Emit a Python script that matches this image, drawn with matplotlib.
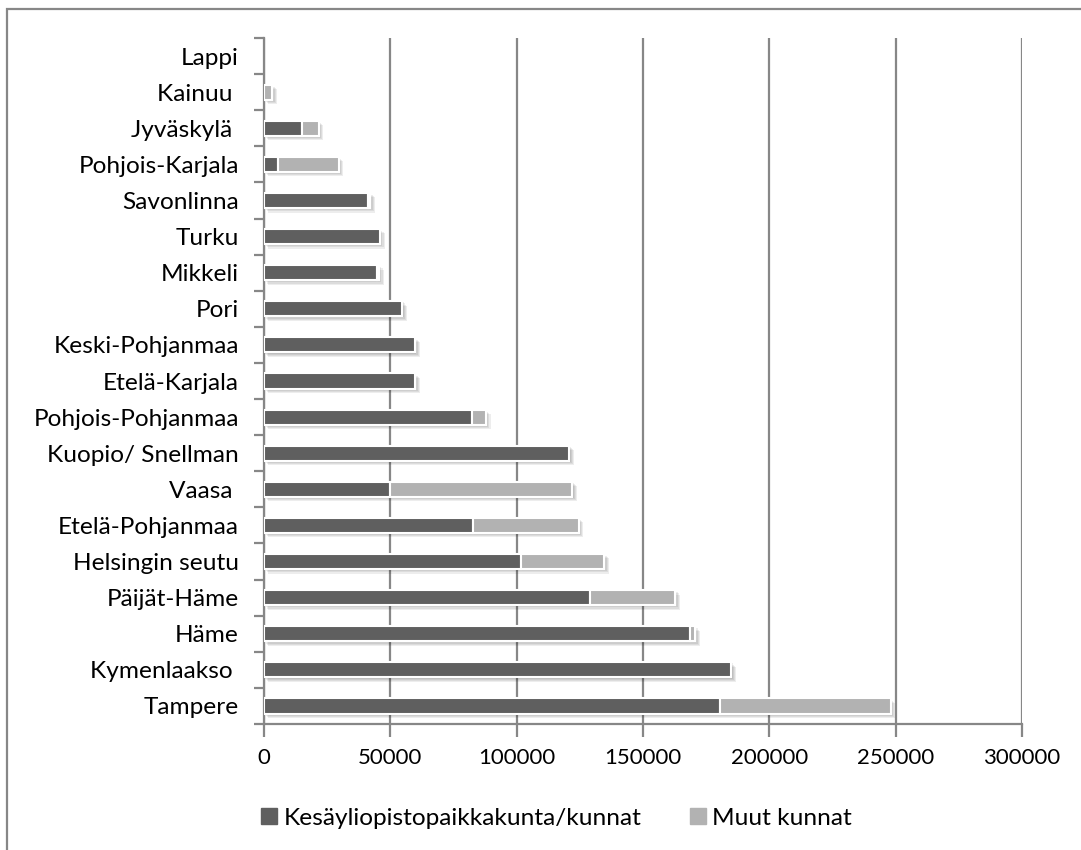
import numpy as np
import matplotlib.pyplot as plt
import matplotlib.patheffects as pe
from matplotlib.patches import Rectangle

plt.rcParams['font.family'] = ['Lato', 'DejaVu Sans']

# alhaalta ylös
regions = ['Tampere', 'Kymenlaakso ', 'Häme', 'Päijät-Häme', 'Helsingin seutu',
           'Etelä-Pohjanmaa', 'Vaasa ', 'Kuopio/ Snellman', 'Pohjois-Pohjanmaa',
           'Etelä-Karjala', 'Keski-Pohjanmaa', 'Pori', 'Mikkeli', 'Turku',
           'Savonlinna', 'Pohjois-Karjala', 'Jyväskylä ', 'Kainuu ', 'Lappi']
kesayliopisto = [180600, 185000, 168600, 129100, 101700, 82600, 50000, 120900, 82400,
                 59900, 59900, 54800, 44900, 46000, 41300, 5600, 14900, 0, 0]
muut = [67400, 0, 2100, 33700, 33000, 42000, 72100, 0, 5500,
        0, 0, 0, 700, 0, 800, 23900, 6700, 3300, 0]
series_names = ['Kesäyliopistopaikkakunta/kunnat', 'Muut kunnat']
x_ticks = [0, 50000, 100000, 150000, 200000, 250000, 300000]

dark = '#5f5f5f'
light = '#b2b2b2'
grid_c = '#878787'

fig = plt.figure(figsize=(10.81, 8.5), dpi=100)
ax = fig.add_axes([0.2442, 0.1482, 0.7012, 0.8071])

y = np.arange(len(regions))
# pehmeä varjo useasta kerroksesta
shadow = [pe.SimplePatchShadow(offset=(o, -o), shadow_rgbFace='#000000', alpha=0.07)
          for o in (0.8, 1.6, 2.4, 3.2)] + [pe.Normal()]
b1 = ax.barh(y, kesayliopisto, height=0.42, color=dark, edgecolor='white', linewidth=1.5,
             zorder=3)
b2 = ax.barh(y, muut, left=kesayliopisto, height=0.42, color=light, edgecolor='white',
             linewidth=1.5, zorder=3)
for bars in (b1, b2):
    for p in bars:
        if p.get_width() > 0:
            p.set_path_effects(shadow)
        else:
            p.set_visible(False)

ax.set_xlim(0, 300000)
ax.set_ylim(-0.5, len(regions) - 0.5)
ax.set_xticks(x_ticks)
ax.set_xticklabels([str(v) for v in x_ticks], fontsize=16)
ax.set_yticks(y)
ax.set_yticklabels(regions, fontsize=17.6)
ax.set_yticks(np.arange(-0.5, len(regions), 1), minor=True)

ax.grid(axis='x', color=grid_c, linewidth=1.6, zorder=0)
ax.set_axisbelow(True)
for s in ['top', 'right']:
    ax.spines[s].set_visible(False)
for s in ['left', 'bottom']:
    ax.spines[s].set_color(grid_c)
    ax.spines[s].set_linewidth(1.6)

ax.tick_params(axis='y', which='major', length=0, pad=18)
ax.tick_params(axis='y', which='minor', length=7, width=1.6, color=grid_c)
ax.tick_params(axis='x', length=9, width=1.6, color=grid_c, pad=8)

handles = [Rectangle((0, 0), 1, 1, color=dark), Rectangle((0, 0), 1, 1, color=light)]
fig.legend(handles=handles, labels=series_names, loc='center', ncol=2,
           bbox_to_anchor=(0.515, 0.0376), frameon=False, fontsize=17.6,
           handlelength=0.65, handleheight=0.65, handletextpad=0.25, columnspacing=2.0)

# kaavion reunus
fig.patches.append(Rectangle((0.0065, -0.02), 1.1, 1.0094, transform=fig.transFigure,
                             fill=False, edgecolor=grid_c, linewidth=1.6))

fig.savefig('out.png', dpi=100)
